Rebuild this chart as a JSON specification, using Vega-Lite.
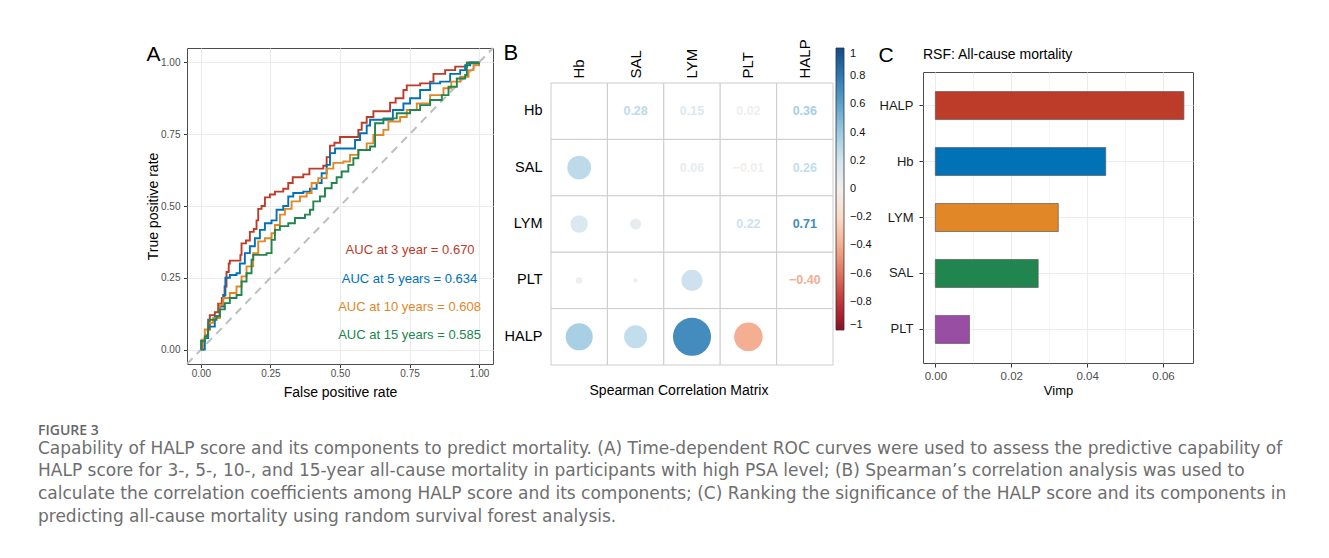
{
  "$schema": "https://vega.github.io/schema/vega-lite/v6.json",
  "autosize": {"type": "none"},
  "padding": {"left": 187, "top": 48, "right": 1142, "bottom": 510},
  "background": "white",
  "config": {
    "font": "Liberation Sans",
    "view": {"stroke": null},
    "title": {"font": "Liberation Sans", "color": "black"},
    "axis": {"labelFont": "Liberation Sans", "titleFont": "Liberation Sans"},
    "legend": {"labelFont": "Liberation Sans"}
  },
  "title": {
    "text": "FIGURE 3",
    "subtitle": [
      "Capability of HALP score and its components to predict mortality. (A) Time-dependent ROC curves were used to assess the predictive capability of",
      "HALP score for 3-, 5-, 10-, and 15-year all-cause mortality in participants with high PSA level; (B) Spearman’s correlation analysis was used to",
      "calculate the correlation coefficients among HALP score and its components; (C) Ranking the significance of the HALP score and its components in",
      "predicting all-cause mortality using random survival forest analysis."
    ],
    "orient": "bottom",
    "anchor": "start",
    "frame": "group",
    "dx": -149,
    "offset": 24,
    "baseline": "top",
    "font": "Open Sans",
    "fontSize": 14,
    "fontWeight": 600,
    "color": "#666666",
    "subtitleFont": "DejaVu Sans",
    "subtitleFontSize": 17,
    "subtitleColor": "#6e6e6e",
    "subtitleLineHeight": 22.7,
    "subtitlePadding": 3
  },
  "spacing": 5,
  "hconcat": [
    {
      "width": 306,
      "height": 316,
      "view": {"stroke": "#4d4d4d", "strokeWidth": 1},
      "title": {"text": "A", "anchor": "start", "frame": "bounds", "fontSize": 21, "fontWeight": "normal", "baseline": "alphabetic", "offset": -12, "dy": 26, "dx": 0},
      "layer": [
        {
          "data": {"values": [{"fpr": -0.05, "tpr": -0.05}, {"fpr": 1.05, "tpr": 1.05}]},
          "mark": {"type": "line", "color": "#BEBEBE", "strokeWidth": 2, "strokeDash": [8, 6]},
          "encoding": {
            "x": {
              "field": "fpr", "type": "quantitative", "title": "False positive rate",
              "scale": {"domain": [-0.05, 1.05], "nice": false, "zero": false},
              "axis": {
                "values": [0, 0.125, 0.25, 0.375, 0.5, 0.625, 0.75, 0.875, 1],
                "labelExpr": "(datum.value*8) % 2 == 0 ? format(datum.value, '.2f') : ''",
                "gridColor": "#EBEBEB",
                "gridWidth": {"condition": {"test": "(datum.value*8) % 2 != 0", "value": 0.55}, "value": 1.1},
                "tickOpacity": {"condition": {"test": "(datum.value*8) % 2 != 0", "value": 0}, "value": 1},
                "tickSize": 3.5, "tickColor": "#333333", "tickWidth": 1,
                "labelFontSize": 10, "labelColor": "#4d4d4d", "labelPadding": 0.5,
                "labelFlush": false, "labelOverlap": false, "domain": false,
                "titleFontSize": 14, "titleFontWeight": "normal", "titleColor": "black", "titlePadding": 7
              }
            },
            "y": {
              "field": "tpr", "type": "quantitative", "title": "True positive rate",
              "scale": {"domain": [-0.05, 1.05], "nice": false, "zero": false},
              "axis": {
                "values": [0, 0.125, 0.25, 0.375, 0.5, 0.625, 0.75, 0.875, 1],
                "labelExpr": "(datum.value*8) % 2 == 0 ? format(datum.value, '.2f') : ''",
                "gridColor": "#EBEBEB",
                "gridWidth": {"condition": {"test": "(datum.value*8) % 2 != 0", "value": 0.55}, "value": 1.1},
                "tickOpacity": {"condition": {"test": "(datum.value*8) % 2 != 0", "value": 0}, "value": 1},
                "tickSize": 3.5, "tickColor": "#333333", "tickWidth": 1,
                "labelFontSize": 10, "labelColor": "#4d4d4d", "labelPadding": 3.5,
                "labelFlush": false, "labelOverlap": false, "domain": false,
                "titleFontSize": 14, "titleFontWeight": "normal", "titleColor": "black", "titlePadding": 0
              }
            }
          }
        },
        {
          "data": {"values": [
            {"s": "3 year", "fpr": 0, "tpr": 0}, {"s": "3 year", "fpr": 0.006, "tpr": 0.03}, {"s": "3 year", "fpr": 0.015, "tpr": 0.05}, {"s": "3 year", "fpr": 0.025, "tpr": 0.07}, {"s": "3 year", "fpr": 0.032, "tpr": 0.12}, {"s": "3 year", "fpr": 0.05, "tpr": 0.13}, {"s": "3 year", "fpr": 0.062, "tpr": 0.16}, {"s": "3 year", "fpr": 0.075, "tpr": 0.18}, {"s": "3 year", "fpr": 0.085, "tpr": 0.22}, {"s": "3 year", "fpr": 0.092, "tpr": 0.27}, {"s": "3 year", "fpr": 0.1, "tpr": 0.3}, {"s": "3 year", "fpr": 0.104, "tpr": 0.31}, {"s": "3 year", "fpr": 0.142, "tpr": 0.33}, {"s": "3 year", "fpr": 0.146, "tpr": 0.37}, {"s": "3 year", "fpr": 0.162, "tpr": 0.38}, {"s": "3 year", "fpr": 0.176, "tpr": 0.41}, {"s": "3 year", "fpr": 0.19, "tpr": 0.42}, {"s": "3 year", "fpr": 0.2, "tpr": 0.45}, {"s": "3 year", "fpr": 0.206, "tpr": 0.49}, {"s": "3 year", "fpr": 0.218, "tpr": 0.5}, {"s": "3 year", "fpr": 0.23, "tpr": 0.53}, {"s": "3 year", "fpr": 0.248, "tpr": 0.54}, {"s": "3 year", "fpr": 0.266, "tpr": 0.55}, {"s": "3 year", "fpr": 0.296, "tpr": 0.56}, {"s": "3 year", "fpr": 0.314, "tpr": 0.58}, {"s": "3 year", "fpr": 0.33, "tpr": 0.6}, {"s": "3 year", "fpr": 0.368, "tpr": 0.61}, {"s": "3 year", "fpr": 0.39, "tpr": 0.63}, {"s": "3 year", "fpr": 0.44, "tpr": 0.64}, {"s": "3 year", "fpr": 0.452, "tpr": 0.67}, {"s": "3 year", "fpr": 0.464, "tpr": 0.71}, {"s": "3 year", "fpr": 0.48, "tpr": 0.72}, {"s": "3 year", "fpr": 0.5, "tpr": 0.74}, {"s": "3 year", "fpr": 0.548, "tpr": 0.74}, {"s": "3 year", "fpr": 0.566, "tpr": 0.765}, {"s": "3 year", "fpr": 0.578, "tpr": 0.79}, {"s": "3 year", "fpr": 0.596, "tpr": 0.81}, {"s": "3 year", "fpr": 0.62, "tpr": 0.83}, {"s": "3 year", "fpr": 0.662, "tpr": 0.83}, {"s": "3 year", "fpr": 0.68, "tpr": 0.86}, {"s": "3 year", "fpr": 0.7, "tpr": 0.875}, {"s": "3 year", "fpr": 0.728, "tpr": 0.904}, {"s": "3 year", "fpr": 0.74, "tpr": 0.92}, {"s": "3 year", "fpr": 0.788, "tpr": 0.927}, {"s": "3 year", "fpr": 0.824, "tpr": 0.933}, {"s": "3 year", "fpr": 0.836, "tpr": 0.96}, {"s": "3 year", "fpr": 0.878, "tpr": 0.973}, {"s": "3 year", "fpr": 0.914, "tpr": 0.985}, {"s": "3 year", "fpr": 0.956, "tpr": 1.0}, {"s": "3 year", "fpr": 1, "tpr": 1},
            {"s": "5 years", "fpr": 0, "tpr": 0}, {"s": "5 years", "fpr": 0.008, "tpr": 0.0}, {"s": "5 years", "fpr": 0.014, "tpr": 0.04}, {"s": "5 years", "fpr": 0.026, "tpr": 0.08}, {"s": "5 years", "fpr": 0.05, "tpr": 0.116}, {"s": "5 years", "fpr": 0.068, "tpr": 0.15}, {"s": "5 years", "fpr": 0.08, "tpr": 0.19}, {"s": "5 years", "fpr": 0.088, "tpr": 0.25}, {"s": "5 years", "fpr": 0.104, "tpr": 0.26}, {"s": "5 years", "fpr": 0.128, "tpr": 0.266}, {"s": "5 years", "fpr": 0.14, "tpr": 0.3}, {"s": "5 years", "fpr": 0.158, "tpr": 0.336}, {"s": "5 years", "fpr": 0.176, "tpr": 0.36}, {"s": "5 years", "fpr": 0.194, "tpr": 0.388}, {"s": "5 years", "fpr": 0.212, "tpr": 0.417}, {"s": "5 years", "fpr": 0.23, "tpr": 0.44}, {"s": "5 years", "fpr": 0.254, "tpr": 0.45}, {"s": "5 years", "fpr": 0.272, "tpr": 0.487}, {"s": "5 years", "fpr": 0.296, "tpr": 0.5}, {"s": "5 years", "fpr": 0.314, "tpr": 0.533}, {"s": "5 years", "fpr": 0.332, "tpr": 0.545}, {"s": "5 years", "fpr": 0.368, "tpr": 0.55}, {"s": "5 years", "fpr": 0.392, "tpr": 0.56}, {"s": "5 years", "fpr": 0.416, "tpr": 0.58}, {"s": "5 years", "fpr": 0.434, "tpr": 0.614}, {"s": "5 years", "fpr": 0.452, "tpr": 0.643}, {"s": "5 years", "fpr": 0.464, "tpr": 0.684}, {"s": "5 years", "fpr": 0.482, "tpr": 0.7}, {"s": "5 years", "fpr": 0.536, "tpr": 0.7}, {"s": "5 years", "fpr": 0.554, "tpr": 0.73}, {"s": "5 years", "fpr": 0.572, "tpr": 0.753}, {"s": "5 years", "fpr": 0.596, "tpr": 0.78}, {"s": "5 years", "fpr": 0.608, "tpr": 0.8}, {"s": "5 years", "fpr": 0.668, "tpr": 0.8}, {"s": "5 years", "fpr": 0.69, "tpr": 0.834}, {"s": "5 years", "fpr": 0.728, "tpr": 0.857}, {"s": "5 years", "fpr": 0.752, "tpr": 0.875}, {"s": "5 years", "fpr": 0.788, "tpr": 0.904}, {"s": "5 years", "fpr": 0.824, "tpr": 0.927}, {"s": "5 years", "fpr": 0.86, "tpr": 0.933}, {"s": "5 years", "fpr": 0.896, "tpr": 0.96}, {"s": "5 years", "fpr": 0.932, "tpr": 0.973}, {"s": "5 years", "fpr": 0.95, "tpr": 0.99}, {"s": "5 years", "fpr": 0.968, "tpr": 1.0}, {"s": "5 years", "fpr": 1, "tpr": 1},
            {"s": "10 years", "fpr": 0, "tpr": 0}, {"s": "10 years", "fpr": 0.002, "tpr": 0.035}, {"s": "10 years", "fpr": 0.014, "tpr": 0.07}, {"s": "10 years", "fpr": 0.026, "tpr": 0.093}, {"s": "10 years", "fpr": 0.044, "tpr": 0.11}, {"s": "10 years", "fpr": 0.068, "tpr": 0.156}, {"s": "10 years", "fpr": 0.08, "tpr": 0.18}, {"s": "10 years", "fpr": 0.104, "tpr": 0.197}, {"s": "10 years", "fpr": 0.128, "tpr": 0.22}, {"s": "10 years", "fpr": 0.146, "tpr": 0.255}, {"s": "10 years", "fpr": 0.164, "tpr": 0.29}, {"s": "10 years", "fpr": 0.188, "tpr": 0.336}, {"s": "10 years", "fpr": 0.206, "tpr": 0.377}, {"s": "10 years", "fpr": 0.23, "tpr": 0.388}, {"s": "10 years", "fpr": 0.254, "tpr": 0.405}, {"s": "10 years", "fpr": 0.266, "tpr": 0.434}, {"s": "10 years", "fpr": 0.284, "tpr": 0.47}, {"s": "10 years", "fpr": 0.302, "tpr": 0.49}, {"s": "10 years", "fpr": 0.326, "tpr": 0.516}, {"s": "10 years", "fpr": 0.356, "tpr": 0.533}, {"s": "10 years", "fpr": 0.38, "tpr": 0.545}, {"s": "10 years", "fpr": 0.398, "tpr": 0.58}, {"s": "10 years", "fpr": 0.422, "tpr": 0.597}, {"s": "10 years", "fpr": 0.452, "tpr": 0.63}, {"s": "10 years", "fpr": 0.476, "tpr": 0.65}, {"s": "10 years", "fpr": 0.512, "tpr": 0.655}, {"s": "10 years", "fpr": 0.536, "tpr": 0.678}, {"s": "10 years", "fpr": 0.566, "tpr": 0.695}, {"s": "10 years", "fpr": 0.596, "tpr": 0.718}, {"s": "10 years", "fpr": 0.62, "tpr": 0.747}, {"s": "10 years", "fpr": 0.656, "tpr": 0.765}, {"s": "10 years", "fpr": 0.674, "tpr": 0.794}, {"s": "10 years", "fpr": 0.716, "tpr": 0.81}, {"s": "10 years", "fpr": 0.74, "tpr": 0.834}, {"s": "10 years", "fpr": 0.776, "tpr": 0.857}, {"s": "10 years", "fpr": 0.824, "tpr": 0.886}, {"s": "10 years", "fpr": 0.872, "tpr": 0.91}, {"s": "10 years", "fpr": 0.9, "tpr": 0.933}, {"s": "10 years", "fpr": 0.932, "tpr": 0.95}, {"s": "10 years", "fpr": 0.962, "tpr": 0.973}, {"s": "10 years", "fpr": 0.98, "tpr": 0.99}, {"s": "10 years", "fpr": 1, "tpr": 1},
            {"s": "15 years", "fpr": 0, "tpr": 0}, {"s": "15 years", "fpr": 0.0005, "tpr": 0.03}, {"s": "15 years", "fpr": 0.014, "tpr": 0.046}, {"s": "15 years", "fpr": 0.026, "tpr": 0.104}, {"s": "15 years", "fpr": 0.056, "tpr": 0.116}, {"s": "15 years", "fpr": 0.068, "tpr": 0.14}, {"s": "15 years", "fpr": 0.086, "tpr": 0.162}, {"s": "15 years", "fpr": 0.104, "tpr": 0.18}, {"s": "15 years", "fpr": 0.128, "tpr": 0.19}, {"s": "15 years", "fpr": 0.146, "tpr": 0.237}, {"s": "15 years", "fpr": 0.164, "tpr": 0.266}, {"s": "15 years", "fpr": 0.182, "tpr": 0.313}, {"s": "15 years", "fpr": 0.188, "tpr": 0.33}, {"s": "15 years", "fpr": 0.236, "tpr": 0.336}, {"s": "15 years", "fpr": 0.254, "tpr": 0.382}, {"s": "15 years", "fpr": 0.266, "tpr": 0.417}, {"s": "15 years", "fpr": 0.284, "tpr": 0.43}, {"s": "15 years", "fpr": 0.314, "tpr": 0.44}, {"s": "15 years", "fpr": 0.338, "tpr": 0.458}, {"s": "15 years", "fpr": 0.374, "tpr": 0.47}, {"s": "15 years", "fpr": 0.392, "tpr": 0.487}, {"s": "15 years", "fpr": 0.404, "tpr": 0.516}, {"s": "15 years", "fpr": 0.428, "tpr": 0.533}, {"s": "15 years", "fpr": 0.446, "tpr": 0.562}, {"s": "15 years", "fpr": 0.47, "tpr": 0.58}, {"s": "15 years", "fpr": 0.488, "tpr": 0.6}, {"s": "15 years", "fpr": 0.506, "tpr": 0.62}, {"s": "15 years", "fpr": 0.53, "tpr": 0.643}, {"s": "15 years", "fpr": 0.548, "tpr": 0.666}, {"s": "15 years", "fpr": 0.566, "tpr": 0.695}, {"s": "15 years", "fpr": 0.608, "tpr": 0.707}, {"s": "15 years", "fpr": 0.626, "tpr": 0.788}, {"s": "15 years", "fpr": 0.656, "tpr": 0.805}, {"s": "15 years", "fpr": 0.704, "tpr": 0.823}, {"s": "15 years", "fpr": 0.752, "tpr": 0.834}, {"s": "15 years", "fpr": 0.788, "tpr": 0.851}, {"s": "15 years", "fpr": 0.824, "tpr": 0.869}, {"s": "15 years", "fpr": 0.866, "tpr": 0.886}, {"s": "15 years", "fpr": 0.89, "tpr": 0.915}, {"s": "15 years", "fpr": 0.92, "tpr": 0.944}, {"s": "15 years", "fpr": 0.95, "tpr": 0.956}, {"s": "15 years", "fpr": 0.956, "tpr": 0.997}, {"s": "15 years", "fpr": 1, "tpr": 1}
          ]},
          "mark": {"type": "line", "interpolate": "step-after", "strokeWidth": 1.9},
          "encoding": {
            "x": {"field": "fpr", "type": "quantitative", "title": "False positive rate"},
            "y": {"field": "tpr", "type": "quantitative", "title": "True positive rate"},
            "color": {"field": "s", "type": "nominal", "scale": {"domain": ["3 year", "5 years", "10 years", "15 years"], "range": ["#BC3C29", "#0072B5", "#E18727", "#20854E"]}, "legend": null}
          }
        },
        {
          "data": {"values": [
            {"s": "3 year", "label": "AUC at 3 year = 0.670", "fpr": 0.752, "tpr": 0.348},
            {"s": "5 years", "label": "AUC at 5 years = 0.634", "fpr": 0.75, "tpr": 0.246},
            {"s": "10 years", "label": "AUC at 10 years = 0.608", "fpr": 0.75, "tpr": 0.148},
            {"s": "15 years", "label": "AUC at 15 years = 0.585", "fpr": 0.75, "tpr": 0.05}
          ]},
          "mark": {"type": "text", "fontSize": 13, "align": "center", "baseline": "middle"},
          "encoding": {
            "x": {"field": "fpr", "type": "quantitative", "title": "False positive rate"},
            "y": {"field": "tpr", "type": "quantitative", "title": "True positive rate"},
            "text": {"field": "label"},
            "color": {"field": "s", "type": "nominal", "legend": null}
          }
        }
      ]
    },
    {
      "vconcat": [
        {
          "width": 282, "height": 30,
          "data": {"values": [{}]},
          "mark": {"type": "text", "text": ""},
          "encoding": {}
        },
        {
          "width": 282, "height": 282,
          "title": {"text": "Spearman Correlation Matrix", "orient": "bottom", "anchor": "middle", "frame": "group", "dx": -13, "offset": 18, "fontSize": 14, "fontWeight": "normal", "baseline": "top"},
          "data": {"values": [
            {"row": "Hb", "col": "Hb", "r": 1, "part": "diag"},
            {"row": "Hb", "col": "SAL", "r": 0.28, "part": "upper"},
            {"row": "Hb", "col": "LYM", "r": 0.15, "part": "upper"},
            {"row": "Hb", "col": "PLT", "r": 0.02, "part": "upper"},
            {"row": "Hb", "col": "HALP", "r": 0.36, "part": "upper"},
            {"row": "SAL", "col": "Hb", "r": 0.28, "part": "lower"},
            {"row": "SAL", "col": "SAL", "r": 1, "part": "diag"},
            {"row": "SAL", "col": "LYM", "r": 0.06, "part": "upper"},
            {"row": "SAL", "col": "PLT", "r": -0.01, "part": "upper"},
            {"row": "SAL", "col": "HALP", "r": 0.26, "part": "upper"},
            {"row": "LYM", "col": "Hb", "r": 0.15, "part": "lower"},
            {"row": "LYM", "col": "SAL", "r": 0.06, "part": "lower"},
            {"row": "LYM", "col": "LYM", "r": 1, "part": "diag"},
            {"row": "LYM", "col": "PLT", "r": 0.22, "part": "upper"},
            {"row": "LYM", "col": "HALP", "r": 0.71, "part": "upper"},
            {"row": "PLT", "col": "Hb", "r": 0.02, "part": "lower"},
            {"row": "PLT", "col": "SAL", "r": -0.01, "part": "lower"},
            {"row": "PLT", "col": "LYM", "r": 0.22, "part": "lower"},
            {"row": "PLT", "col": "PLT", "r": 1, "part": "diag"},
            {"row": "PLT", "col": "HALP", "r": -0.4, "part": "upper"},
            {"row": "HALP", "col": "Hb", "r": 0.36, "part": "lower"},
            {"row": "HALP", "col": "SAL", "r": 0.26, "part": "lower"},
            {"row": "HALP", "col": "LYM", "r": 0.71, "part": "lower"},
            {"row": "HALP", "col": "PLT", "r": -0.4, "part": "lower"},
            {"row": "HALP", "col": "HALP", "r": 1, "part": "diag"}
          ]},
          "encoding": {
            "x": {
              "field": "col", "type": "nominal", "sort": ["Hb", "SAL", "LYM", "PLT", "HALP"],
              "scale": {"paddingInner": 0, "paddingOuter": 0},
              "axis": {"orient": "top", "title": null, "labelAngle": 270, "labelAlign": "left", "labelBaseline": "middle", "labelPadding": 5, "ticks": false, "domain": false, "grid": false, "labelFontSize": 15, "labelColor": "black"}
            },
            "y": {
              "field": "row", "type": "nominal", "sort": ["Hb", "SAL", "LYM", "PLT", "HALP"],
              "scale": {"paddingInner": 0, "paddingOuter": 0},
              "axis": {"title": "B", "titleAngle": 0, "titleFontSize": 22, "titleFontWeight": "normal", "titleAlign": "left", "titleBaseline": "alphabetic", "titleX": -48, "titleY": -24, "titleColor": "black", "labelPadding": 9, "ticks": false, "domain": false, "grid": false, "labelFontSize": 14.5, "labelColor": "black"}
            }
          },
          "layer": [
            {"mark": {"type": "rect", "fill": "white", "stroke": "#cccccc", "strokeWidth": 1}},
            {
              "transform": [{"filter": "datum.part == 'lower'"}],
              "mark": {"type": "circle", "opacity": 1},
              "encoding": {
                "size": {"field": "r", "type": "quantitative", "scale": {"type": "linear", "domain": [-1, 0, 1], "range": [2043, 0, 2043]}, "legend": null},
                "color": {
                  "field": "r", "type": "quantitative",
                  "scale": {"scheme": "redblue", "domain": [-1, 1]},
                  "legend": {"title": null, "orient": "right", "offset": 2, "direction": "vertical", "gradientLength": 282, "gradientThickness": 8, "gradientStrokeColor": "#333333", "gradientStrokeWidth": 0.8, "values": [-1, -0.8, -0.6, -0.4, -0.2, 0, 0.2, 0.4, 0.6, 0.8, 1], "format": ".1~f", "labelFontSize": 11, "labelColor": "#111111", "labelOffset": 6, "labelOverlap": false, "padding": 0}
                }
              }
            },
            {
              "transform": [{"filter": "datum.part == 'upper'"}],
              "mark": {"type": "text", "fontSize": 12.5, "fontWeight": "bold"},
              "encoding": {
                "text": {"field": "r", "type": "quantitative", "format": ".2f"},
                "color": {"field": "r", "type": "quantitative"}
              }
            }
          ]
        }
      ],
      "spacing": 5,
      "bounds": "flush"
    },
    {
      "vconcat": [
        {
          "width": 270, "height": 19,
          "data": {"values": [{}]},
          "mark": {"type": "text", "text": ""},
          "encoding": {}
        },
        {
          "width": 270, "height": 291,
          "view": {"stroke": "#4d4d4d", "strokeWidth": 1},
          "title": {"text": "RSF: All-cause mortality", "anchor": "start", "frame": "group", "fontSize": 14, "fontWeight": "normal", "baseline": "alphabetic", "offset": 12, "dy": 41},
          "data": {"values": [
            {"variable": "HALP", "vimp": 0.0655},
            {"variable": "Hb", "vimp": 0.0449},
            {"variable": "LYM", "vimp": 0.0324},
            {"variable": "SAL", "vimp": 0.0271},
            {"variable": "PLT", "vimp": 0.009}
          ]},
          "mark": {"type": "bar", "stroke": "#5a5a5a", "strokeWidth": 0.7},
          "encoding": {
            "y": {
              "field": "variable", "type": "nominal", "sort": ["HALP", "Hb", "LYM", "SAL", "PLT"],
              "scale": {"paddingInner": 0.5, "paddingOuter": 0.35},
              "axis": {"title": "C", "titleAngle": 0, "titleFontSize": 21, "titleFontWeight": "normal", "titleAlign": "left", "titleBaseline": "alphabetic", "titleX": -45, "titleY": -11, "titleColor": "black", "labelFontSize": 13, "labelColor": "#1a1a1a", "tickSize": 4, "tickColor": "#333333", "labelPadding": 6, "domain": false, "grid": true, "gridColor": "#EBEBEB", "gridWidth": 1.1, "bandPosition": 0.5}
            },
            "x": {
              "field": "vimp", "type": "quantitative",
              "scale": {"domain": [-0.00325, 0.0679], "nice": false},
              "axis": {
                "title": "Vimp",
                "values": [0, 0.01, 0.02, 0.03, 0.04, 0.05, 0.06],
                "labelExpr": "round(datum.value*100) % 2 == 0 ? format(datum.value, '.2f') : ''",
                "gridColor": "#EBEBEB",
                "gridWidth": {"condition": {"test": "round(datum.value*100) % 2 != 0", "value": 0.55}, "value": 1.1},
                "tickOpacity": {"condition": {"test": "round(datum.value*100) % 2 != 0", "value": 0}, "value": 1},
                "tickSize": 4, "tickColor": "#333333",
                "labelFontSize": 11.5, "labelColor": "#4d4d4d", "labelPadding": 3.5, "labelFlush": false, "labelOverlap": false,
                "domain": false, "titleFontSize": 13, "titleFontWeight": "normal", "titleColor": "black", "titlePadding": 2
              }
            },
            "color": {
              "field": "variable", "type": "nominal",
              "scale": {"domain": ["HALP", "Hb", "LYM", "SAL", "PLT"], "range": ["#BC3C29", "#0072B5", "#E18727", "#20854E", "#984EA3"]},
              "legend": null
            }
          }
        }
      ],
      "spacing": 5,
      "bounds": "flush"
    }
  ]
}
